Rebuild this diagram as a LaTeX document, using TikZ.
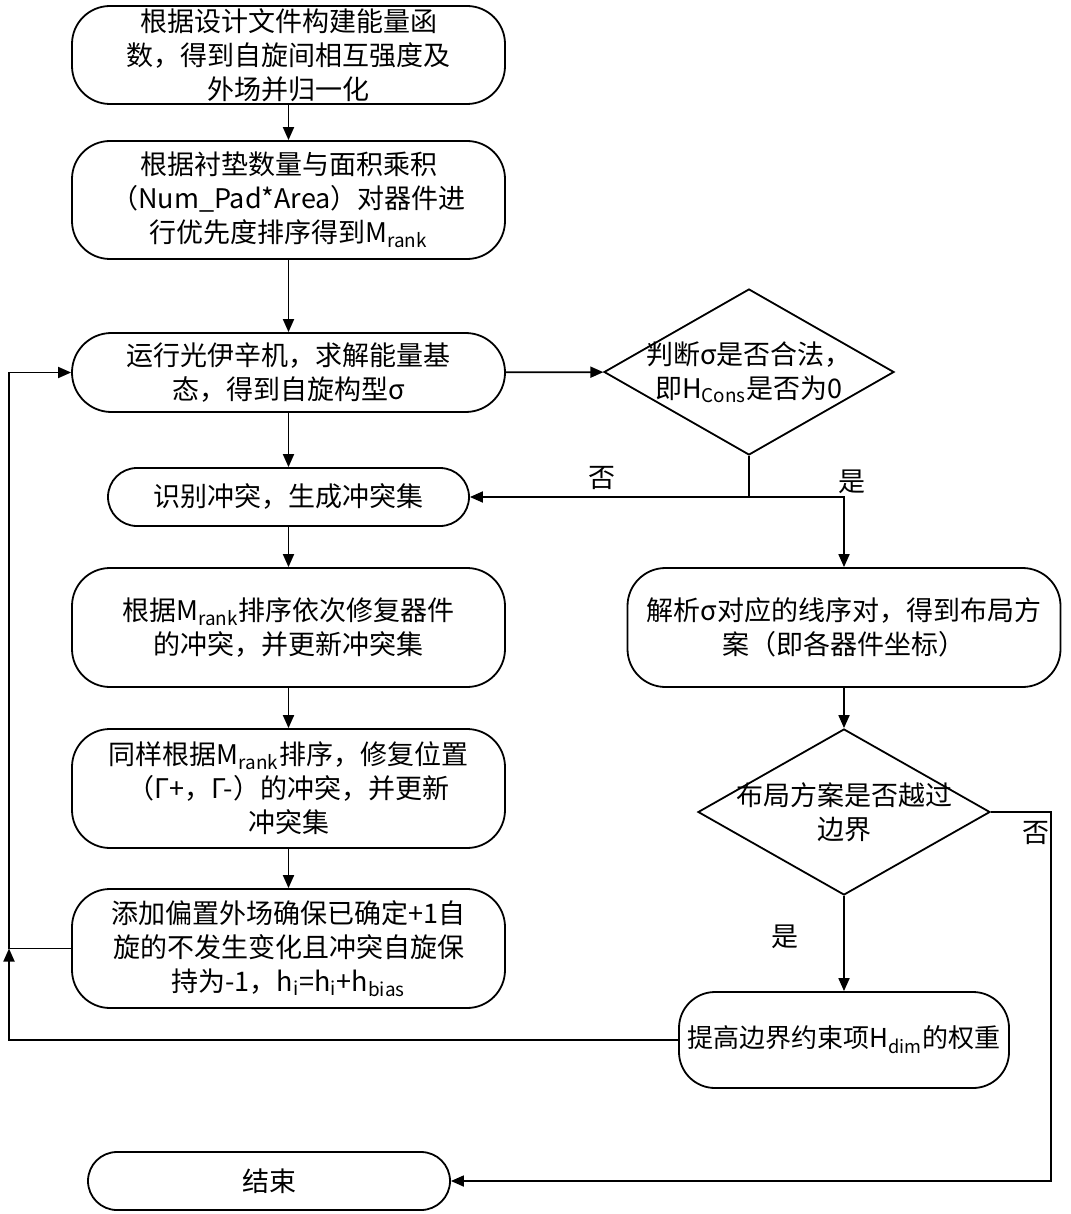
\documentclass[tikz,border=0pt]{standalone}
\usepackage{fontspec}
\setmainfont{Noto Sans CJK SC}
\usetikzlibrary{arrows.meta,shapes.geometric}
\begin{document}
\begin{tikzpicture}[x=0.5pt,y=-0.5pt,
  txt/.style={align=center,inner sep=0pt,font=\fontsize{13.5}{17}\selectfont},
  box/.style={txt,draw,line width=0.9pt,rounded corners=19pt,minimum width=216.5pt},
  pill/.style={txt,draw,line width=0.9pt,rounded corners=14.5pt,minimum height=29pt},
  diam/.style={draw,line width=0.9pt,diamond,inner sep=0pt},
  conn/.style={line width=0.9pt},
  arr/.style={conn,-{Triangle[length=6.5pt,width=5.5pt]}},
  lbl/.style={inner sep=0pt,font=\fontsize{13.5}{17}\selectfont}]
\useasboundingbox (0,0) rectangle (1070,1214);
\node[box,minimum height=49pt] (n1) at (288.5,55) {根据设计文件构建能量函\\数，得到自旋间相互强度及\\外场并归一化};
\node[box,minimum height=59pt] (n2) at (288.5,200) {根据衬垫数量与面积乘积\\（Num\_Pad*Area）对器件进\\行优先度排序得到M\textsubscript{rank}};
\node[box,minimum height=39.5pt,rounded corners=19.7pt] (n3) at (288.5,372.5) {运行光伊辛机，求解能量基\\态，得到自旋构型σ};
\node[diam,minimum width=145pt,minimum height=83pt] (d1) at (749,372) {};
\node[txt] at (d1) {判断σ是否合法，\\即H\textsubscript{Cons}是否为0};
\node[pill,minimum width=180.5pt] (n5) at (288.5,497) {识别冲突，生成冲突集};
\node[box,minimum height=59.5pt] (n6) at (288.5,627.5) {根据M\textsubscript{rank}排序依次修复器件\\的冲突，并更新冲突集};
\node[box,minimum height=59.5pt] (n7) at (288.5,788.5) {同样根据M\textsubscript{rank}排序，修复位置\\（Γ+，Γ-）的冲突，并更新\\冲突集};
\node[box,minimum height=59.5pt] (n8) at (288.5,948.5) {添加偏置外场确保已确定+1自\\旋的不发生变化且冲突自旋保\\持为-1，h\textsubscript{i}=h\textsubscript{i}+h\textsubscript{bias}};
\node[box,minimum height=59.5pt] (n9) at (844,627.5) {解析σ对应的线序对，得到布局方\\案（即各器件坐标）};
\node[diam,minimum width=146pt,minimum height=83pt] (d2) at (844,812) {};
\node[txt] at (d2) {布局方案是否越过\\边界};
\node[box,minimum width=165pt,minimum height=48pt,rounded corners=18pt,font=\fontsize{13}{17}\selectfont] (n11) at (844,1040) {提高边界约束项H\textsubscript{dim}的权重};
\node[pill,minimum width=181pt] (n12) at (269,1181) {结束};
\coordinate (j1) at (749,497);
\coordinate (r1) at (1051,812);
\coordinate (l1) at (9,948.5);
\draw[arr] (n1) -- (n2);
\draw[arr] (n2) -- (n3);
\draw[arr] (n3) -- (n5);
\draw[arr] (n5) -- (n6);
\draw[arr] (n6) -- (n7);
\draw[arr] (n7) -- (n8);
\draw[arr] (n3) -- (d1);
\draw[conn] (d1.south) -- (j1);
\draw[arr] (j1) -- (n5.east);
\draw[arr] (j1) -| (n9.north);
\draw[arr] (n9) -- (d2);
\draw[arr] (d2) -- (n11);
\draw[arr] (d2.east) -- (r1) |- (n12.east);
\draw[arr] (n11.west) -| (l1);
\draw[arr] (n8.west) -- (l1) |- (n3.west);
\node[lbl] (t1) at (602,478) {否};
\node[lbl] (t2) at (852,482) {是};
\node[lbl] (t3) at (785,937) {是};
\node[lbl] (t4) at (1036,833) {否};
\end{tikzpicture}
\end{document}
